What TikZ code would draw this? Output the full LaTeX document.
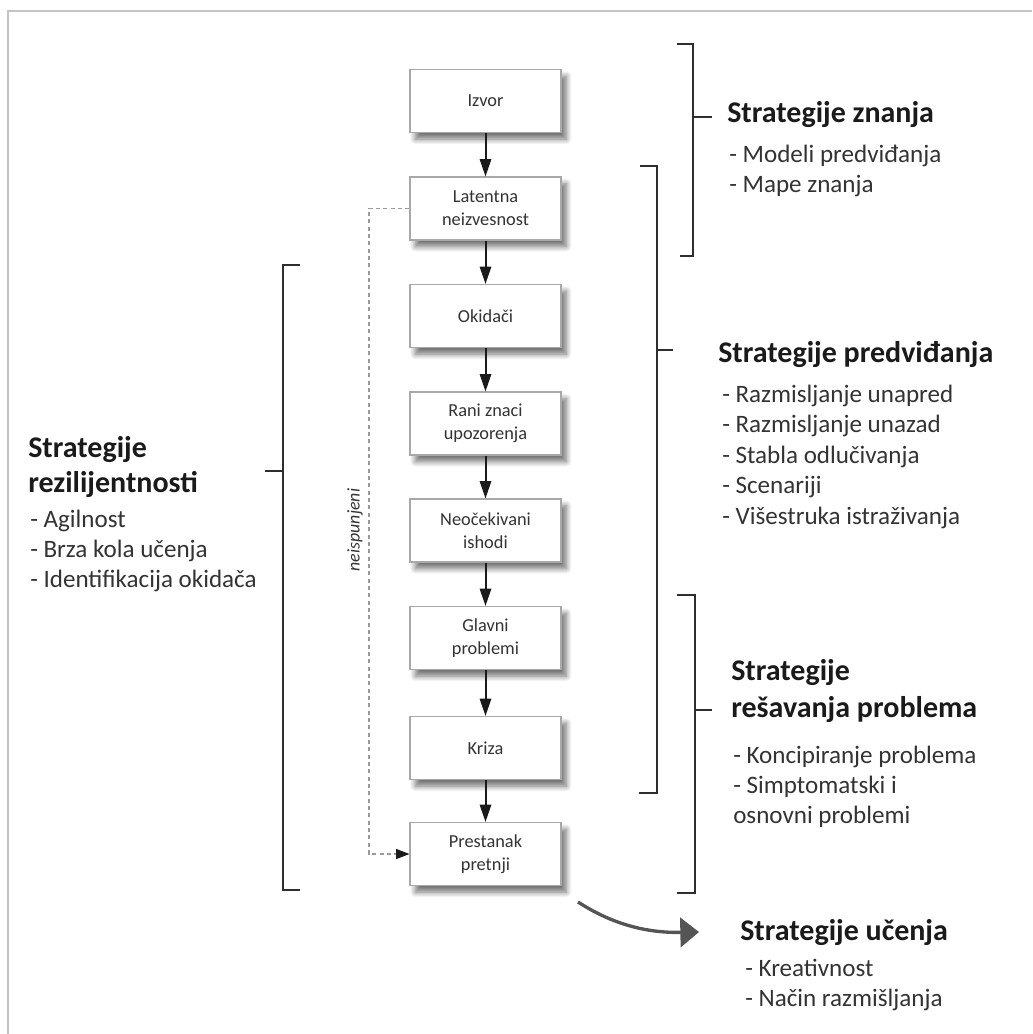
\documentclass[tikz,border=0pt]{standalone}
\usepackage{fontspec}
\setmainfont{Carlito}
\usetikzlibrary{arrows.meta,shadows.blur}

\definecolor{framegray}{HTML}{C4C4C4}
\definecolor{boxedge}{HTML}{A8A8A8}
\definecolor{ink}{HTML}{1A1A1A}
\definecolor{listink}{HTML}{333333}
\definecolor{bracketink}{HTML}{2E2E2E}
\definecolor{dashgray}{HTML}{9A9A9A}
\definecolor{curvegray}{HTML}{555555}

\begin{document}
\begin{tikzpicture}[x=0.75pt,y=-0.75pt,
  stage/.style={draw=boxedge, line width=0.8pt, fill=white,
    minimum width=113.25pt, minimum height=47.25pt, inner sep=0pt,
    align=center, text=listink, font=\fontsize{13.75}{17.25}\selectfont,
    blur shadow={shadow xshift=4pt, shadow yshift=-5pt,
      shadow blur radius=4pt, shadow blur steps=10, shadow opacity=55}},
  flow/.style={line width=1.5pt, draw=ink, -{Triangle[length=13pt,width=8.5pt]}},
  bracket/.style={line width=2.2pt, draw=bracketink},
  head/.style={anchor=base west, inner sep=0pt, text=ink,
    font=\fontsize{22.5}{27}\selectfont\bfseries},
  item/.style={anchor=base west, inner sep=0pt, text=listink,
    font=\fontsize{18.8}{22}\selectfont},
]
\useasboundingbox (0,0) rectangle (1032,1034);

% outer frame (top and left edges)
\draw[framegray, line width=1.5pt] (8,1034) -- (8,11) -- (1032,11);

% stages of the threat
\node[stage] (izvor)     at (485.5,101)   {Izvor};
\node[stage] (latentna)  at (485.5,208.5) {Latentna\\neizvesnost};
\node[stage] (okidaci)   at (485.5,316)   {Okidači};
\node[stage] (rani)      at (485.5,423.5) {Rani znaci\\upozorenja};
\node[stage] (neocek)    at (485.5,530.5) {Neočekivani\\ishodi};
\node[stage] (glavni)    at (485.5,638)   {Glavni\\problemi};
\node[stage] (kriza)     at (485.5,748)   {Kriza};
\node[stage] (prestanak) at (485.5,854)   {Prestanak\\pretnji};

\draw[flow] (izvor) -- (latentna);
\draw[flow] (latentna) -- (okidaci);
\draw[flow] (okidaci) -- (rani);
\draw[flow] (rani) -- (neocek);
\draw[flow] (neocek) -- (glavni);
\draw[flow] (glavni) -- (kriza);
\draw[flow] (kriza) -- (prestanak);

% shortcut when the threat does not materialise
\coordinate (loopcorner) at (369,208.5);
\draw[dashgray, line width=0.8pt, dash pattern=on 3pt off 2.5pt,
  -{Triangle[length=10pt,width=7.5pt,color=ink]}]
  (latentna.west) -- (loopcorner) |- (prestanak.west);
\node[rotate=90, inner sep=0pt, text=listink,
  font=\itshape\fontsize{13.4}{15}\selectfont] (neisp) at (355,530) {neispunjeni};

% resilience bracket (left)
\draw[bracket] (300,265) -- (283,265) -- (283,890) -- (300,890);
\draw[bracket] (265,471) -- (283,471);
\node[head] (rez1) at (28,457) {Strategije};
\node[head] (rez2) at (28,492) {rezilijentnosti};
\node[item] (rez3) at (30,527) {- Agilnost};
\node[item] (rez4) at (30,557) {- Brza kola učenja};
\node[item] (rez5) at (30,587) {- Identifikacija okidača};

% knowledge bracket
\draw[bracket] (677,44) -- (693,44) -- (693,256) -- (680,256);
\draw[bracket] (693,117) -- (712,117);
\node[head] (zn1) at (727,123) {Strategije znanja};
\node[item] (zn2) at (729,163) {- Modeli predviđanja};
\node[item] (zn3) at (729,193) {- Mape znanja};

% anticipation bracket
\draw[bracket] (640,166) -- (657,166) -- (657,793) -- (639,793);
\draw[bracket] (657,350) -- (673,350);
\node[head] (pr1) at (718,362) {Strategije predviđanja};
\node[item] (pr2) at (722,402)   {- Razmisljanje unapred};
\node[item] (pr3) at (722,432.5) {- Razmisljanje unazad};
\node[item] (pr4) at (722,463)   {- Stabla odlučivanja};
\node[item] (pr5) at (722,493.5) {- Scenariji};
\node[item] (pr6) at (722,524)   {- Višestruka istraživanja};

% problem-solving bracket
\draw[bracket] (677,595) -- (695,595) -- (695,893) -- (677,893);
\draw[bracket] (695,710) -- (712,710);
\node[head] (rs1) at (731,680) {Strategije};
\node[head] (rs2) at (731,717) {rešavanja problema};
\node[item] (rs3) at (733,763) {- Koncipiranje problema};
\node[item] (rs4) at (733,793) {- Simptomatski i};
\node[item] (rs5) at (733,823) {osnovni problemi};

% learning
\coordinate (learnfrom) at (578,902);
\coordinate (learnto) at (699,932);
\draw[curvegray, line width=2.5pt, -{Triangle[length=14pt,width=22pt]}]
  (learnfrom) .. controls (615,926) and (650,933) .. (learnto);
\node[head] (uc1) at (740,940) {Strategije učenja};
\node[item] (uc2) at (745,976)  {- Kreativnost};
\node[item] (uc3) at (745,1006) {- Način razmišljanja};
\end{tikzpicture}
\end{document}
